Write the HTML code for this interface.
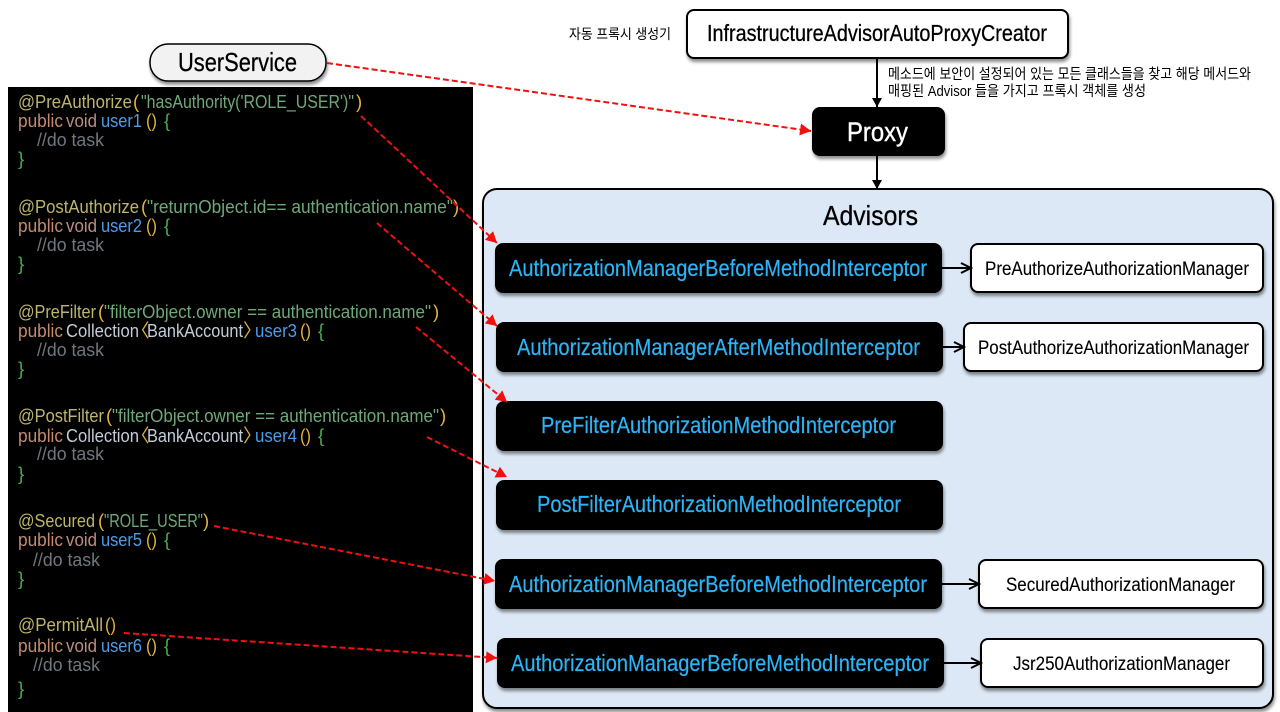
<!DOCTYPE html>
<html lang="ko"><head><meta charset="utf-8"><style>
html,body{margin:0;padding:0;background:#fff;width:1280px;height:712px;overflow:hidden}
svg{display:block}
text{font-family:"Liberation Sans","Noto Sans CJK KR",sans-serif;white-space:pre}
.c text{font-size:18.5px}
.an{fill:#bdb56c}.st{fill:#6fa878}.pa{fill:#e3b340}.pu{fill:#c58a6c}.vo{fill:#bd8c80}.us{fill:#4f9be6}.br{fill:#4caf50}.cm{fill:#70777f}.ty{fill:#c3ccd6}
.n{font-size:23px;fill:#2bb5f6;stroke:#2bb5f6;stroke-width:.2}
.w{font-size:19px;fill:#000;stroke:#000;stroke-width:.12}
.h{fill:#000;stroke:#000;stroke-width:.3}
.r{stroke:#f01010;stroke-width:2;stroke-dasharray:6 3;fill:none}
.k{stroke:#000;stroke-width:2;fill:none}
</style></head><body>
<svg width="1280" height="712" viewBox="0 0 1280 712" xmlns="http://www.w3.org/2000/svg">
<defs>
<filter id="s" x="-10%" y="-20%" width="120%" height="150%"><feDropShadow dx="1" dy="3" stdDeviation="1.5" flood-color="#000" flood-opacity=".45"/></filter>
<marker id="ar" markerUnits="userSpaceOnUse" markerWidth="12" markerHeight="12" refX="11" refY="6" orient="auto"><path d="M0 0L11 6L0 12Z" fill="#f01010"/></marker>
<marker id="ak" markerUnits="userSpaceOnUse" markerWidth="10" markerHeight="12" refX="9" refY="5" orient="auto"><path d="M0 0L9 5L0 10Z" fill="#000"/></marker>
<marker id="ao" markerUnits="userSpaceOnUse" markerWidth="14" markerHeight="14" refX="11" refY="6" orient="auto"><path d="M1 1L11 6L1 11" fill="none" stroke="#000" stroke-width="2"/></marker>
</defs>

<rect x="8" y="87" width="465" height="625" fill="#000"/>

<g class="c">
<text class="an" x="18" y="108" textLength="114" lengthAdjust="spacingAndGlyphs">@PreAuthorize</text><text class="pa" x="133" y="108">(</text><text class="st" x="141" y="108" textLength="213" lengthAdjust="spacingAndGlyphs">"hasAuthority('ROLE_USER')"</text><text class="pa" x="356" y="108">)</text>
<text class="pu" x="18" y="127" textLength="45" lengthAdjust="spacingAndGlyphs">public</text><text class="vo" x="66" y="127" textLength="31" lengthAdjust="spacingAndGlyphs">void</text><text class="us" x="101" y="127" textLength="41" lengthAdjust="spacingAndGlyphs">user1</text><text class="pa" x="146" y="127" textLength="11" lengthAdjust="spacingAndGlyphs">()</text><text class="br" x="164" y="127">{</text>
<text class="cm" x="37" y="146" textLength="67" lengthAdjust="spacingAndGlyphs">//do task</text>
<text class="br" x="18" y="165">}</text>

<text class="an" x="18" y="213" textLength="121" lengthAdjust="spacingAndGlyphs">@PostAuthorize</text><text class="pa" x="141" y="213">(</text><text class="st" x="147" y="213" textLength="306" lengthAdjust="spacingAndGlyphs">"returnObject.id== authentication.name"</text><text class="pa" x="453" y="213">)</text>
<text class="pu" x="18" y="232" textLength="45" lengthAdjust="spacingAndGlyphs">public</text><text class="vo" x="66" y="232" textLength="31" lengthAdjust="spacingAndGlyphs">void</text><text class="us" x="101" y="232" textLength="41" lengthAdjust="spacingAndGlyphs">user2</text><text class="pa" x="146" y="232" textLength="11" lengthAdjust="spacingAndGlyphs">()</text><text class="br" x="164" y="232">{</text>
<text class="cm" x="37" y="251" textLength="67" lengthAdjust="spacingAndGlyphs">//do task</text>
<text class="br" x="18" y="270">}</text>

<text class="an" x="18" y="318" textLength="78" lengthAdjust="spacingAndGlyphs">@PreFilter</text><text class="pa" x="98" y="318">(</text><text class="st" x="104" y="318" textLength="327" lengthAdjust="spacingAndGlyphs">"filterObject.owner == authentication.name"</text><text class="pa" x="433" y="318">)</text>
<text class="pu" x="18" y="337" textLength="45" lengthAdjust="spacingAndGlyphs">public</text><text class="ty" x="66" y="337" textLength="73" lengthAdjust="spacingAndGlyphs">Collection</text><text class="pa" x="131" y="337">〈</text><text class="ty" x="147" y="337" textLength="96" lengthAdjust="spacingAndGlyphs">BankAccount</text><text class="pa" x="243" y="337">〉</text><text class="us" x="255" y="337" textLength="42" lengthAdjust="spacingAndGlyphs">user3</text><text class="pa" x="300" y="337" textLength="11" lengthAdjust="spacingAndGlyphs">()</text><text class="br" x="318" y="337">{</text>
<text class="cm" x="37" y="356" textLength="67" lengthAdjust="spacingAndGlyphs">//do task</text>
<text class="br" x="18" y="375">}</text>

<text class="an" x="18" y="422" textLength="86" lengthAdjust="spacingAndGlyphs">@PostFilter</text><text class="pa" x="106" y="422">(</text><text class="st" x="112" y="422" textLength="327" lengthAdjust="spacingAndGlyphs">"filterObject.owner == authentication.name"</text><text class="pa" x="440" y="422">)</text>
<text class="pu" x="18" y="442" textLength="45" lengthAdjust="spacingAndGlyphs">public</text><text class="ty" x="66" y="442" textLength="73" lengthAdjust="spacingAndGlyphs">Collection</text><text class="pa" x="131" y="442">〈</text><text class="ty" x="147" y="442" textLength="96" lengthAdjust="spacingAndGlyphs">BankAccount</text><text class="pa" x="243" y="442">〉</text><text class="us" x="255" y="442" textLength="42" lengthAdjust="spacingAndGlyphs">user4</text><text class="pa" x="300" y="442" textLength="11" lengthAdjust="spacingAndGlyphs">()</text><text class="br" x="318" y="442">{</text>
<text class="cm" x="37" y="460" textLength="67" lengthAdjust="spacingAndGlyphs">//do task</text>
<text class="br" x="18" y="480">}</text>

<text class="an" x="18" y="527" textLength="77" lengthAdjust="spacingAndGlyphs">@Secured</text><text class="pa" x="98" y="527">(</text><text class="st" x="104" y="527" textLength="99" lengthAdjust="spacingAndGlyphs">"ROLE_USER"</text><text class="pa" x="203" y="527">)</text>
<text class="pu" x="18" y="546" textLength="45" lengthAdjust="spacingAndGlyphs">public</text><text class="vo" x="66" y="546" textLength="31" lengthAdjust="spacingAndGlyphs">void</text><text class="us" x="101" y="546" textLength="41" lengthAdjust="spacingAndGlyphs">user5</text><text class="pa" x="146" y="546" textLength="11" lengthAdjust="spacingAndGlyphs">()</text><text class="br" x="164" y="546">{</text>
<text class="cm" x="33" y="566" textLength="67" lengthAdjust="spacingAndGlyphs">//do task</text>
<text class="br" x="18" y="585">}</text>

<text class="an" x="18" y="631" textLength="85" lengthAdjust="spacingAndGlyphs">@PermitAll</text><text class="pa" x="105" y="631" textLength="11" lengthAdjust="spacingAndGlyphs">()</text>
<text class="pu" x="18" y="652" textLength="45" lengthAdjust="spacingAndGlyphs">public</text><text class="vo" x="66" y="652" textLength="31" lengthAdjust="spacingAndGlyphs">void</text><text class="us" x="101" y="652" textLength="41" lengthAdjust="spacingAndGlyphs">user6</text><text class="pa" x="146" y="652" textLength="11" lengthAdjust="spacingAndGlyphs">()</text><text class="br" x="164" y="652">{</text>
<text class="cm" x="33" y="671" textLength="67" lengthAdjust="spacingAndGlyphs">//do task</text>
<text class="br" x="18" y="695">}</text>
</g>

<rect x="150" y="44" width="176" height="37" rx="18" fill="#f2f2f2" stroke="#000" stroke-width="1.5" filter="url(#s)"/>
<text class="h" x="178" y="71" font-size="26" textLength="119" lengthAdjust="spacingAndGlyphs">UserService</text>

<text x="569" y="39" font-size="14" fill="#000" textLength="102" lengthAdjust="spacingAndGlyphs">자동 프록시 생성기</text>
<rect x="687" y="10" width="381" height="48" rx="7" fill="#fff" stroke="#000" stroke-width="2" filter="url(#s)"/>
<text class="h" x="707" y="41" font-size="23" textLength="340" lengthAdjust="spacingAndGlyphs">InfrastructureAdvisorAutoProxyCreator</text>

<line class="k" x1="877" y1="58" x2="877" y2="107" marker-end="url(#ak)"/>
<text x="888" y="79" font-size="14.5" fill="#000" textLength="363" lengthAdjust="spacingAndGlyphs">메소드에 보안이 설정되어 있는 모든 클래스들을 찾고 해당 메서드와</text>
<text x="888" y="96" font-size="14.5" fill="#000" textLength="258" lengthAdjust="spacingAndGlyphs">매핑된 Advisor 들을 가지고 프록시 객체를 생성</text>

<rect x="812" y="107" width="133" height="49" rx="8" fill="#000" filter="url(#s)"/>
<text x="847" y="141" font-size="27" fill="#fff" stroke="#fff" stroke-width=".4" textLength="61" lengthAdjust="spacingAndGlyphs">Proxy</text>

<rect x="483" y="189" width="790" height="519" rx="14" fill="#dce8f5" stroke="#000" stroke-width="2" filter="url(#s)"/>
<line class="k" x1="877" y1="156" x2="877" y2="189" marker-end="url(#ak)"/>
<text class="h" x="823" y="225" font-size="28" textLength="95" lengthAdjust="spacingAndGlyphs">Advisors</text>

<g filter="url(#s)" fill="#000">
<rect x="495" y="243" width="447" height="50" rx="8"/>
<rect x="496" y="322" width="447" height="50" rx="8"/>
<rect x="496" y="401" width="447" height="50" rx="8"/>
<rect x="496" y="480" width="447" height="50" rx="8"/>
<rect x="495" y="559" width="447" height="50" rx="8"/>
<rect x="497" y="638" width="447" height="50" rx="8"/>
</g>
<text class="n" x="509" y="276" textLength="418" lengthAdjust="spacingAndGlyphs">AuthorizationManagerBeforeMethodInterceptor</text>
<text class="n" x="517" y="355" textLength="403" lengthAdjust="spacingAndGlyphs">AuthorizationManagerAfterMethodInterceptor</text>
<text class="n" x="541" y="433" textLength="355" lengthAdjust="spacingAndGlyphs">PreFilterAuthorizationMethodInterceptor</text>
<text class="n" x="537" y="512" textLength="364" lengthAdjust="spacingAndGlyphs">PostFilterAuthorizationMethodInterceptor</text>
<text class="n" x="509" y="592" textLength="418" lengthAdjust="spacingAndGlyphs">AuthorizationManagerBeforeMethodInterceptor</text>
<text class="n" x="511" y="671" textLength="418" lengthAdjust="spacingAndGlyphs">AuthorizationManagerBeforeMethodInterceptor</text>

<g filter="url(#s)" fill="#fff" stroke="#000" stroke-width="2">
<rect x="971" y="244" width="292" height="48" rx="7"/>
<rect x="964" y="323" width="299" height="48" rx="7"/>
<rect x="979" y="560" width="284" height="48" rx="7"/>
<rect x="981" y="639" width="282" height="48" rx="7"/>
</g>
<text class="w" x="985" y="275" textLength="264" lengthAdjust="spacingAndGlyphs">PreAuthorizeAuthorizationManager</text>
<text class="w" x="978" y="354" textLength="271" lengthAdjust="spacingAndGlyphs">PostAuthorizeAuthorizationManager</text>
<text class="w" x="1006" y="591" textLength="229" lengthAdjust="spacingAndGlyphs">SecuredAuthorizationManager</text>
<text class="w" x="1013" y="670" textLength="217" lengthAdjust="spacingAndGlyphs">Jsr250AuthorizationManager</text>

<line class="k" x1="942" y1="268" x2="971" y2="268" marker-end="url(#ao)"/>
<line class="k" x1="943" y1="347" x2="964" y2="347" marker-end="url(#ao)"/>
<line class="k" x1="942" y1="584" x2="979" y2="584" marker-end="url(#ao)"/>
<line class="k" x1="944" y1="663" x2="981" y2="663" marker-end="url(#ao)"/>

<line class="r" x1="327" y1="63" x2="811" y2="131" marker-end="url(#ar)"/>
<line class="r" x1="361" y1="116" x2="497" y2="243" marker-end="url(#ar)"/>
<line class="r" x1="377" y1="223" x2="497" y2="326" marker-end="url(#ar)"/>
<line class="r" x1="416" y1="327" x2="507" y2="402" marker-end="url(#ar)"/>
<line class="r" x1="427" y1="437" x2="507" y2="477" marker-end="url(#ar)"/>
<line class="r" x1="214" y1="526" x2="495" y2="581" marker-end="url(#ar)"/>
<line class="r" x1="124" y1="633" x2="497" y2="658" marker-end="url(#ar)"/>
</svg>
</body></html>
